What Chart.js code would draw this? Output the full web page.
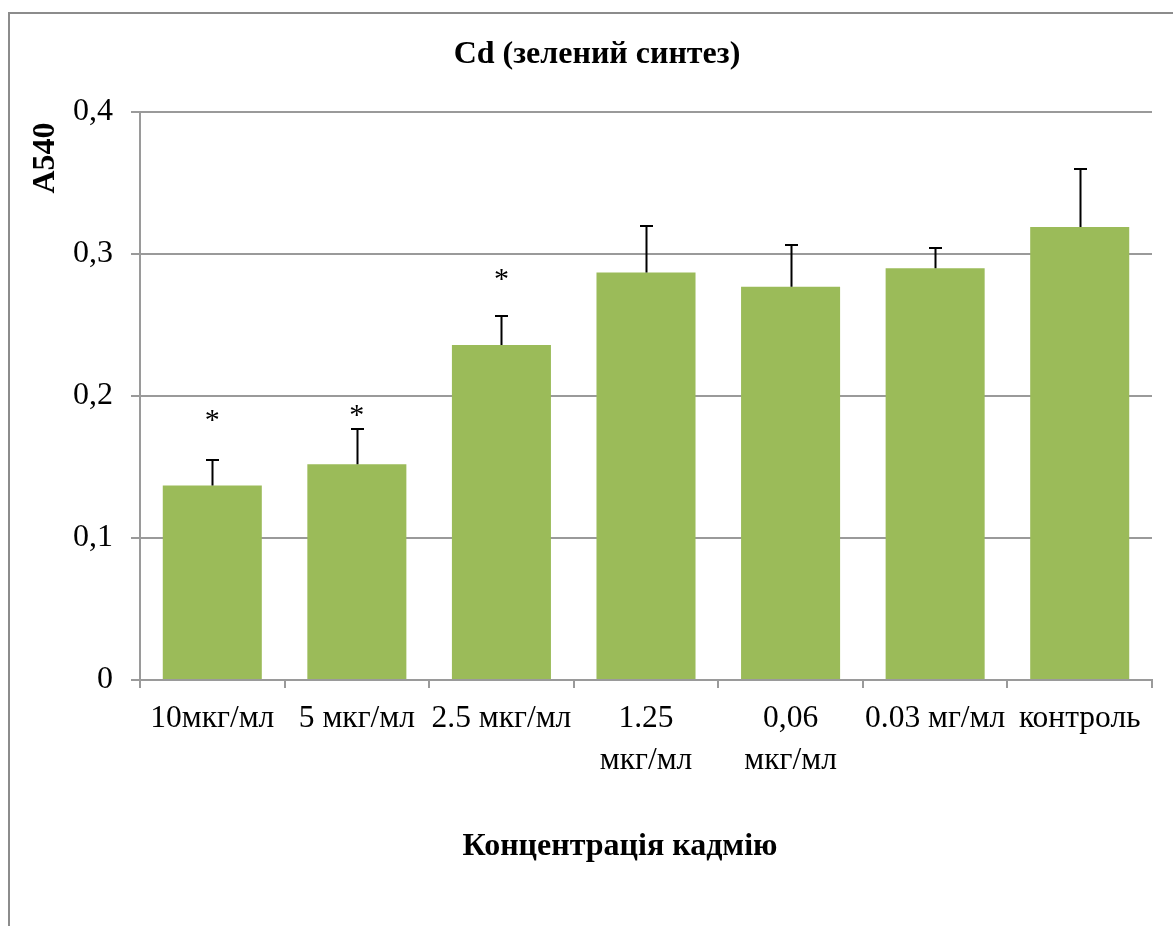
<!DOCTYPE html>
<html>
<head>
<meta charset="utf-8">
<script src="https://cdn.jsdelivr.net/npm/chart.js@4/dist/chart.umd.min.js"></script>
<style>
  html, body { margin: 0; padding: 0; background: #ffffff; }
  canvas { display: block; }
</style>
</head>
<body>
<canvas id="cd" width="1173" height="926"></canvas>
<script>
// Absorbance at 540 nm for each cadmium concentration (green synthesis)
const categories = ['10мкг/мл', '5 мкг/мл', '2.5 мкг/мл', ['1.25', 'мкг/мл'], ['0,06', 'мкг/мл'], '0.03 мг/мл', 'контроль'];
const a540 = [0.137, 0.152, 0.236, 0.287, 0.277, 0.290, 0.319];
const a540Err = [0.018, 0.025, 0.020, 0.033, 0.029, 0.014, 0.041];
const significance = ['*', '*', '*', '', '', '', ''];
const yTickLabels = ['0', '0,1', '0,2', '0,3', '0,4'];

const chartTitle = 'Cd (зелений синтез)';
const xTitle = 'Концентрація кадмію';
const yTitle = 'A540';

const SERIF = '"Liberation Serif", "Times New Roman", serif';
const GRID = '#9a9a9a';

// Frame, titles, error bars and significance marks
const decorations = {
  id: 'decorations',
  beforeDraw(chart) {
    const ctx = chart.ctx;
    ctx.save();
    ctx.fillStyle = '#ffffff';
    ctx.fillRect(0, 0, chart.width, chart.height);
    ctx.strokeStyle = '#8c8c8c';
    ctx.lineWidth = 2;
    ctx.strokeRect(9, 13, chart.width + 20, chart.height + 20);
    ctx.restore();
  },
  afterDatasetsDraw(chart, args, opts) {
    const ctx = chart.ctx;
    const y = chart.scales.y;
    const meta = chart.getDatasetMeta(0);
    ctx.save();
    ctx.strokeStyle = '#000000';
    ctx.lineWidth = 2;
    meta.data.forEach((bar, i) => {
      const x = Math.round(bar.x) + 0.5;
      const yTop = y.getPixelForValue(a540[i]);
      const yCap = Math.round(y.getPixelForValue(a540[i] + a540Err[i]));
      ctx.beginPath();
      ctx.moveTo(x, yTop);
      ctx.lineTo(x, yCap);
      ctx.moveTo(x - 6.5, yCap);
      ctx.lineTo(x + 6.5, yCap);
      ctx.stroke();
    });
    // asterisks above the error caps
    ctx.fillStyle = '#000000';
    ctx.font = '30px ' + SERIF;
    ctx.textAlign = 'center';
    ctx.textBaseline = 'alphabetic';
    meta.data.forEach((bar, i) => {
      if (!significance[i]) return;
      const m = ctx.measureText(significance[i]);
      const cy = y.getPixelForValue(a540[i] + a540Err[i]) - opts.starLift[i];
      const base = cy + (m.actualBoundingBoxAscent - m.actualBoundingBoxDescent) / 2;
      ctx.fillText(significance[i], bar.x, base);
    });
    ctx.restore();
  },
  afterDraw(chart) {
    const ctx = chart.ctx;
    ctx.save();
    ctx.fillStyle = '#000000';
    ctx.textAlign = 'center';
    ctx.textBaseline = 'middle';
    ctx.font = 'bold 32px ' + SERIF;
    ctx.fillText(chartTitle, 597, 55);
    ctx.fillText(xTitle, 620, 847);
    ctx.translate(46, 158);
    ctx.rotate(-Math.PI / 2);
    ctx.fillText(yTitle, 0, 0);
    ctx.restore();
  }
};

new Chart(document.getElementById('cd'), {
  type: 'bar',
  data: {
    labels: categories,
    datasets: [{
      data: a540,
      backgroundColor: '#9bbb59',
      borderWidth: 0,
      categoryPercentage: 1.0,
      barPercentage: 0.685
    }]
  },
  options: {
    responsive: false,
    devicePixelRatio: 1,
    animation: false,
    layout: { padding: { left: 0, top: 112, right: 21, bottom: 0 } },
    plugins: {
      legend: { display: false },
      title: { display: false },
      tooltip: { enabled: false },
      decorations: { starLift: [44, 18, 42, 0, 0, 0, 0] }
    },
    scales: {
      x: {
        afterFit(scale) { scale.height = 246; },
        grid: {
          offset: true,
          drawOnChartArea: false,
          drawTicks: true,
          tickLength: 8,
          color: GRID,
          lineWidth: 2
        },
        border: { display: true, color: GRID, width: 2 },
        ticks: {
          autoSkip: false,
          maxRotation: 0,
          minRotation: 0,
          padding: 10,
          color: '#000000',
          font: { family: SERIF, size: 31.5, lineHeight: 1.33 }
        }
      },
      y: {
        min: 0,
        max: 0.4,
        afterFit(scale) { scale.width = 140; },
        grid: {
          color: GRID,
          lineWidth: 2,
          drawTicks: true,
          tickLength: 9
        },
        border: { display: true, color: GRID, width: 2 },
        ticks: {
          stepSize: 0.1,
          padding: 18,
          color: '#000000',
          font: { family: SERIF, size: 32 },
          callback: (v, i) => yTickLabels[i]
        }
      }
    }
  },
  plugins: [decorations]
});
</script>
</body>
</html>
